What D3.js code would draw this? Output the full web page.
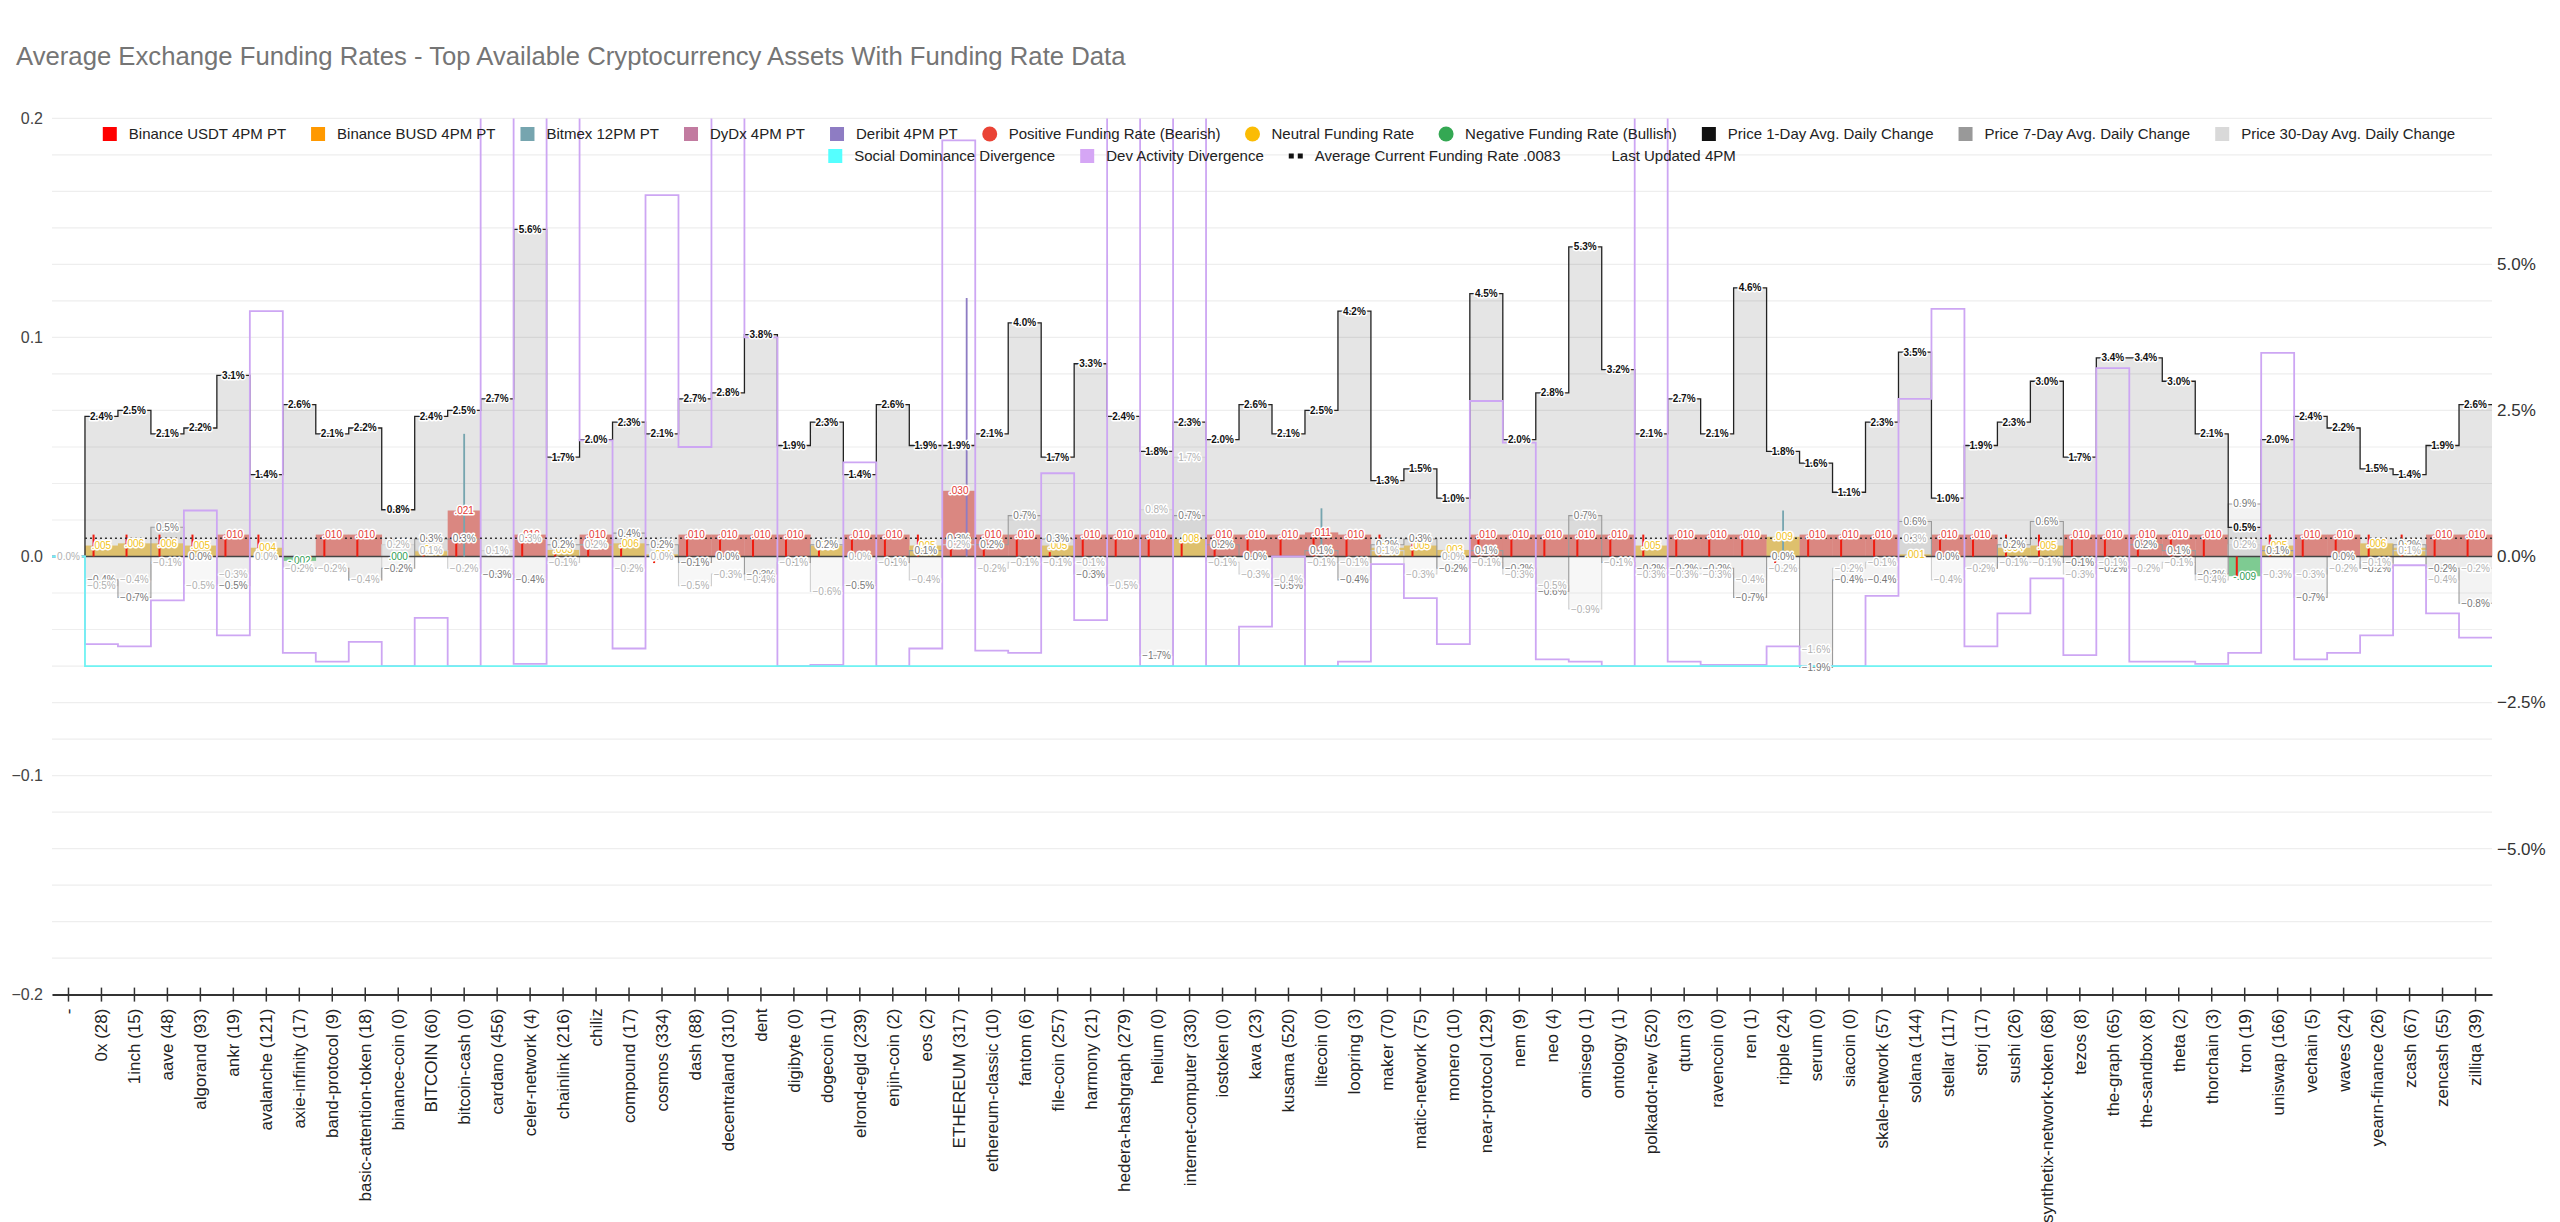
<!DOCTYPE html>
<html><head><meta charset="utf-8">
<script src="https://cdn.jsdelivr.net/npm/d3@7"></script>
<style>
html,body{margin:0;padding:0;background:#fff;}
svg{display:block;font-family:"Liberation Sans",Arial,sans-serif;}
</style></head><body>
<svg id="chart" width="2560" height="1222"></svg>
<script>
const titleText = "Average Exchange Funding Rates - Top Available Cryptocurrency Assets With Funding Rate Data";

const categories = ["-", "0x (28)", "1inch (15)", "aave (48)", "algorand (93)", "ankr (19)", "avalanche (121)", "axie-infinity (17)", "band-protocol (9)", "basic-attention-token (18)", "binance-coin (0)", "BITCOIN (60)", "bitcoin-cash (0)", "cardano (456)", "celer-network (4)", "chainlink (216)", "chiliz", "compound (17)", "cosmos (334)", "dash (88)", "decentraland (310)", "dent", "digibyte (0)", "dogecoin (1)", "elrond-egld (239)", "enjin-coin (2)", "eos (2)", "ETHEREUM (317)", "ethereum-classic (10)", "fantom (6)", "file-coin (257)", "harmony (21)", "hedera-hashgraph (279)", "helium (0)", "internet-computer (330)", "iostoken (0)", "kava (23)", "kusama (520)", "litecoin (0)", "loopring (3)", "maker (70)", "matic-network (75)", "monero (10)", "near-protocol (129)", "nem (9)", "neo (4)", "omisego (1)", "ontology (1)", "polkadot-new (520)", "qtum (3)", "ravencoin (0)", "ren (1)", "ripple (24)", "serum (0)", "siacoin (0)", "skale-network (57)", "solana (144)", "stellar (117)", "storj (17)", "sushi (26)", "synthetix-network-token (68)", "tezos (8)", "the-graph (65)", "the-sandbox (8)", "theta (2)", "thorchain (3)", "tron (19)", "uniswap (166)", "vechain (5)", "waves (24)", "yearn-finance (26)", "zcash (67)", "zencash (55)", "zilliqa (39)"];

// Price average daily change, percent (right axis)
const price1d = [0, 2.4, 2.5, 2.1, 2.2, 3.1, 1.4, 2.6, 2.1, 2.2, 0.8, 2.4, 2.5, 2.7, 5.6, 1.7, 2.0, 2.3, 2.1, 2.7, 2.8, 3.8, 1.9, 2.3, 1.4, 2.6, 1.9, 1.9, 2.1, 4.0, 1.7, 3.3, 2.4, 1.8, 2.3, 2.0, 2.6, 2.1, 2.5, 4.2, 1.3, 1.5, 1.0, 4.5, 2.0, 2.8, 5.3, 3.2, 2.1, 2.7, 2.1, 4.6, 1.8, 1.6, 1.1, 2.3, 3.5, 1.0, 1.9, 2.3, 3.0, 1.7, 3.4, 3.4, 3.0, 2.1, 0.5, 2.0, 2.4, 2.2, 1.5, 1.4, 1.9, 2.6];
const price7d = [0, -0.4, -0.7, 0.5, 0.0, -0.5, 0.0, -0.2, -0.2, -0.4, -0.2, 0.3, 0.3, -0.3, -0.4, 0.2, 0.2, 0.4, 0.2, -0.1, 0.0, -0.3, -0.1, 0.2, -0.5, -0.1, 0.1, 0.3, 0.2, 0.7, 0.3, -0.3, -0.5, -1.7, 0.7, 0.2, 0.0, -0.5, 0.1, -0.4, 0.2, 0.3, -0.2, 0.1, -0.2, -0.6, 0.7, -0.1, -0.2, -0.2, -0.2, -0.7, 0.0, -1.9, -0.4, -0.4, 0.6, 0.0, -0.2, 0.2, 0.6, -0.1, -0.2, 0.2, 0.1, -0.3, 0.9, 0.1, -0.7, 0.0, -0.2, 0.2, -0.2, -0.8];
const price30d = [0, -0.5, -0.4, -0.1, -0.5, -0.3, 0.0, -0.2, -0.2, -0.4, 0.2, 0.1, -0.2, 0.1, 0.3, -0.1, 0.2, -0.2, 0.0, -0.5, -0.3, -0.4, -0.1, -0.6, 0.0, -0.1, -0.4, 0.2, -0.2, -0.1, -0.1, -0.1, -0.5, 0.8, 1.7, -0.1, -0.3, -0.4, -0.1, -0.1, 0.1, -0.3, 0.0, -0.1, -0.3, -0.5, -0.9, -0.1, -0.3, -0.3, -0.3, -0.4, -0.2, -1.6, -0.2, -0.1, 0.3, -0.4, -0.2, -0.1, -0.1, -0.3, -0.1, -0.2, -0.1, -0.4, 0.2, -0.3, -0.3, -0.2, -0.1, 0.1, -0.4, -0.2];

// Average current funding rate per asset (left axis)
const fundingAvg = [null, 0.005, 0.006, 0.006, 0.005, 0.010, 0.004, -0.002, 0.010, 0.010, 0.000, 0.003, 0.021, null, 0.010, 0.003, 0.010, 0.006, 0.001, 0.010, 0.010, 0.010, 0.010, 0.005, 0.010, 0.010, 0.005, 0.030, 0.010, 0.010, 0.005, 0.010, 0.010, 0.010, 0.008, 0.010, 0.010, 0.010, 0.011, 0.010, 0.004, 0.005, 0.003, 0.010, 0.010, 0.010, 0.010, 0.010, 0.005, 0.010, 0.010, 0.010, 0.009, 0.010, 0.010, 0.010, 0.001, 0.010, 0.010, 0.004, 0.005, 0.010, 0.010, 0.010, 0.010, 0.010, -0.009, 0.005, 0.010, 0.010, 0.006, 0.004, 0.010, 0.010];
// Binance USDT funding rate (thin bars)
const binanceUsdt = [null, 0.010, 0.010, 0.010, 0.010, 0.010, 0.010, null, 0.010, 0.010, null, 0.003, 0.010, null, 0.010, 0.003, 0.010, 0.006, -0.003, 0.010, 0.010, 0.010, 0.010, 0.005, 0.010, 0.010, 0.010, 0.007, 0.010, 0.010, 0.002, 0.010, 0.010, 0.010, 0.008, 0.010, 0.010, 0.010, 0.010, 0.010, 0.010, 0.006, 0.003, 0.010, 0.010, 0.010, 0.010, 0.010, 0.010, 0.010, 0.010, 0.010, -0.003, 0.010, 0.010, 0.010, null, 0.010, 0.010, 0.010, 0.010, 0.010, 0.010, 0.010, 0.010, 0.010, -0.009, 0.010, 0.010, 0.010, 0.010, 0.010, 0.010, 0.010];
const bitmexRates = [["bitcoin-cash (0)", 0.056], ["litecoin (0)", 0.022], ["ripple (24)", 0.021]];
const deribitRates = [["ETHEREUM (317)", 0.118]];
const averageFundingRate = 0.0083;

// Divergence series (left axis); values above 0.2 run off the top of the chart
const devActivity = [0, -0.040, -0.041, -0.020, 0.021, -0.036, 0.112, -0.044, -0.048, -0.039, -0.050, -0.028, -0.050, 0.3, -0.049, 0.3, 0.053, -0.042, 0.165, 0.050, 0.3, 0.100, -0.050, -0.0495, 0.043, -0.050, -0.042, 0.190, -0.043, -0.044, 0.038, -0.029, 0.3, -0.050, 0.3, -0.050, -0.032, 0.0, -0.050, -0.048, -0.0035, -0.019, -0.040, 0.071, 0.052, -0.047, -0.048, -0.050, 0.3, -0.048, -0.0495, -0.0495, -0.041, -0.050, -0.050, -0.018, 0.072, 0.113, -0.041, -0.026, -0.010, -0.045, 0.086, -0.048, -0.048, -0.049, -0.044, 0.093, -0.047, -0.044, -0.036, -0.004, -0.026, -0.037];
const socialDominance = [0, -0.05, -0.05, -0.05, -0.05, -0.05, -0.05, -0.05, -0.05, -0.05, -0.05, -0.05, -0.05, -0.05, -0.05, -0.05, -0.05, -0.05, -0.05, -0.05, -0.05, -0.05, -0.05, -0.05, -0.05, -0.05, -0.05, -0.05, -0.05, -0.05, -0.05, -0.05, -0.05, -0.05, -0.05, -0.05, -0.05, -0.05, -0.05, -0.05, -0.05, -0.05, -0.05, -0.05, -0.05, -0.05, -0.05, -0.05, -0.05, -0.05, -0.05, -0.05, -0.05, -0.05, -0.05, -0.05, -0.05, -0.05, -0.05, -0.05, -0.05, -0.05, -0.05, -0.05, -0.05, -0.05, -0.05, -0.05, -0.05, -0.05, -0.05, -0.05, -0.05, -0.05];

const leftTicks = [0.2, 0.1, 0.0, -0.1, -0.2];
const rightTicks = [5.0, 2.5, 0.0, -2.5, -5.0];
const exchanges = ["Binance USDT 4PM PT", "Binance BUSD 4PM PT", "Bitmex 12PM PT", "DyDx 4PM PT", "Deribit 4PM PT"];
const legendRow1 = ["Binance USDT 4PM PT", "Binance BUSD 4PM PT", "Bitmex 12PM PT", "DyDx 4PM PT", "Deribit 4PM PT", "Positive Funding Rate (Bearish)", "Neutral Funding Rate", "Negative Funding Rate (Bullish)", "Price 1-Day Avg. Daily Change", "Price 7-Day Avg. Daily Change", "Price 30-Day Avg. Daily Change"];
const legendRow2 = ["Social Dominance Divergence", "Dev Activity Divergence", "Average Current Funding Rate .0083", "Last Updated 4PM"];

// ---------- styles ----------
const legendStyle = {
  "Binance USDT 4PM PT": ["rect", "#ff0000"],
  "Binance BUSD 4PM PT": ["rect", "#ff9900"],
  "Bitmex 12PM PT": ["rect", "#76a5af"],
  "DyDx 4PM PT": ["rect", "#c27ba0"],
  "Deribit 4PM PT": ["rect", "#8e7cc3"],
  "Positive Funding Rate (Bearish)": ["circle", "#ea4335"],
  "Neutral Funding Rate": ["circle", "#fbbc04"],
  "Negative Funding Rate (Bullish)": ["circle", "#34a853"],
  "Price 1-Day Avg. Daily Change": ["rect", "#111111"],
  "Price 7-Day Avg. Daily Change": ["rect", "#999999"],
  "Price 30-Day Avg. Daily Change": ["rect", "#d9d9d9"],
  "Social Dominance Divergence": ["rect", "#55ffff"],
  "Dev Activity Divergence": ["rect", "#d5a6f5"],
  "Average Current Funding Rate .0083": ["dots", "#111111"],
  "Last Updated 4PM": ["none", "none"]
};

const svg = d3.select("#chart");
const PL = 52, PR = 2492, PT = 118.4, PB = 994.6;
const x = d3.scaleBand().domain(categories).range([PL, PR]);
const bw = x.bandwidth();
const y = d3.scaleLinear().domain([-0.2, 0.2]).range([PB, PT]);
const yR = d3.scaleLinear().domain([-7.5, 7.5]).range([PB, PT]);
const xSub = d3.scaleBand().domain(exchanges).range([6.6, bw - 6.6]);

svg.append("defs").append("clipPath").attr("id", "plotclip")
  .append("rect").attr("x", PL - 2).attr("y", PT).attr("width", PR - PL + 4).attr("height", PB - PT);

// title
svg.append("text").attr("x", 16).attr("y", 65).attr("font-size", 25.7)
  .attr("fill", "#757575").text(titleText);

// gridlines
const gridVals = d3.range(-12, 13).map(i => i * 0.2 / 12);
svg.append("g").selectAll("line").data(gridVals).join("line")
  .attr("x1", PL).attr("x2", PR).attr("y1", d => y(d)).attr("y2", d => y(d))
  .attr("stroke", "#eeeeee").attr("stroke-width", 1.2);

// left axis labels
svg.append("g").selectAll("text").data(leftTicks).join("text")
  .attr("x", 43).attr("y", d => y(d)).attr("dy", "0.35em").attr("text-anchor", "end")
  .attr("font-size", 16).attr("fill", "#444").text(d => d3.format(".1f")(d));
// right axis labels
svg.append("g").selectAll("text").data(rightTicks).join("text")
  .attr("x", 2497).attr("y", d => yR(d)).attr("dy", "0.35em").attr("text-anchor", "start")
  .attr("font-size", 17).attr("fill", "#333").text(d => d3.format(".1f")(d) + "%");

// ---------- stepped series helpers ----------
function steps(vals) {
  const pts = [];
  vals.forEach((v, i) => {
    const xs = x(categories[i]);
    pts.push({x: xs, v: v}); pts.push({x: xs + bw, v: v});
  });
  return pts;
}
const areaR = d3.area().x(d => d.x).y0(yR(0)).y1(d => yR(d.v)).defined(d => d.v != null);
const lineR = d3.line().x(d => d.x).y(d => yR(d.v)).defined(d => d.v != null);
const lineL = d3.line().x(d => d.x).y(d => y(d.v)).defined(d => d.v != null);

const priceSeries = [
  {vals: price1d, fill: "#000", fop: 0.1, stroke: "#222", sw: 1.3, label: "#111", weight: "bold"},
  {vals: price7d, fill: "#888", fop: 0.1, stroke: "#9a9a9a", sw: 1.1, label: "#777", weight: "normal"},
  {vals: price30d, fill: "#bbb", fop: 0.12, stroke: "#cfcfcf", sw: 1.1, label: "#b0b0b0", weight: "normal"}
];
const gAreas = svg.append("g");
priceSeries.forEach(s => {
  gAreas.append("path").attr("d", areaR(steps(s.vals))).attr("fill", s.fill).attr("fill-opacity", s.fop);
});

// funding average stepped bars
function fundColor(v) { return v >= 0.0095 ? "#da8781" : (v > 0 ? "#dec06d" : "#7ecb92"); }
function fundLabelColor(v) { return v >= 0.0095 ? "#e53935" : (v > 0 ? "#f2c21a" : "#2f9e55"); }
svg.append("g").selectAll("rect").data(categories.map((c, i) => ({c, v: fundingAvg[i]})).filter(d => d.v != null))
  .join("rect")
  .attr("x", d => x(d.c)).attr("width", bw + 0.3)
  .attr("y", d => Math.min(y(d.v), y(0))).attr("height", d => Math.abs(y(d.v) - y(0)))
  .attr("fill", d => fundColor(d.v));

// price lines
const gLines = svg.append("g");
priceSeries.slice().reverse().forEach(s => {
  gLines.append("path").attr("d", lineR(steps(s.vals))).attr("fill", "none")
    .attr("stroke", s.stroke).attr("stroke-width", s.sw);
});

// zero line
svg.append("line").attr("x1", PL).attr("x2", PR).attr("y1", y(0)).attr("y2", y(0))
  .attr("stroke", "#444").attr("stroke-width", 1.6);

// exchange thin bars
const gEx = svg.append("g");
gEx.selectAll("rect.usdt").data(categories.map((c, i) => ({c, v: binanceUsdt[i]})).filter(d => d.v != null))
  .join("rect").attr("class", "usdt")
  .attr("x", d => x(d.c) + xSub("Binance USDT 4PM PT") + xSub.bandwidth() / 2 - 1).attr("width", 2)
  .attr("y", d => Math.min(y(d.v), y(0))).attr("height", d => Math.abs(y(d.v) - y(0)))
  .attr("fill", "#ee1c10");
gEx.selectAll("rect.bitmex").data(bitmexRates).join("rect").attr("class", "bitmex")
  .attr("x", d => x(d[0]) + xSub("Bitmex 12PM PT") + xSub.bandwidth() / 2 - 0.9).attr("width", 1.8)
  .attr("y", d => y(d[1])).attr("height", d => y(0) - y(d[1])).attr("fill", "#76a5af");
gEx.selectAll("rect.deribit").data(deribitRates).join("rect").attr("class", "deribit")
  .attr("x", d => x(d[0]) + xSub("Deribit 4PM PT") + xSub.bandwidth() / 2 - 0.9).attr("width", 1.8)
  .attr("y", d => y(d[1])).attr("height", d => y(0) - y(d[1])).attr("fill", "#8e7cc3");

// divergence lines
const gDiv = svg.append("g").attr("clip-path", "url(#plotclip)");
gDiv.append("path").attr("d", lineL(steps(devActivity))).attr("fill", "none")
  .attr("stroke", "#cda6f3").attr("stroke-width", 1.8);
gDiv.append("path").attr("d", lineL(steps(socialDominance))).attr("fill", "none")
  .attr("stroke", "#6ff3f3").attr("stroke-width", 1.8);

// average funding dotted line
svg.append("line").attr("x1", x(categories[1])).attr("x2", PR)
  .attr("y1", y(averageFundingRate)).attr("y2", y(averageFundingRate))
  .attr("stroke", "#333").attr("stroke-width", 1.6).attr("stroke-dasharray", "2,3");

// ---------- annotations ----------
const gLab = svg.append("g").attr("font-size", 10).attr("text-anchor", "middle")
  .attr("stroke", "#fff").attr("stroke-width", 3).attr("stroke-linejoin", "round").attr("paint-order", "stroke");
function fmtFund(v) { const s = d3.format(".3f")(Math.abs(v)).replace(/^0/, ""); return (v < 0 ? "-" : "") + s; }
gLab.selectAll("text.fund").data(categories.map((c, i) => ({c, v: fundingAvg[i]})).filter(d => d.v != null))
  .join("text").attr("class", "fund")
  .attr("x", d => x(d.c) + bw / 2).attr("y", d => y(d.v)).attr("dy", "0.35em")
  .attr("fill", d => fundLabelColor(d.v)).text(d => fmtFund(d.v));
priceSeries.forEach((s, k) => {
  gLab.selectAll("text.p" + k).data(categories.map((c, i) => ({c, v: s.vals[i]})).filter(d => d.v != null))
    .join("text").attr("class", "p" + k)
    .attr("x", d => x(d.c) + bw / 2).attr("y", d => yR(d.v)).attr("dy", "0.35em")
    .attr("fill", s.label).attr("font-weight", s.weight)
    .text(d => d3.format(".1f")(d.v) + "%");
});

// ---------- x axis ----------
const gx = svg.append("g").attr("transform", `translate(0,${PB})`)
  .call(d3.axisBottom(x).tickSize(0).tickSizeOuter(0).tickPadding(0));
gx.attr("font-family", null).attr("font-size", null);
gx.select(".domain").attr("stroke", "#333").attr("stroke-width", 2);
gx.selectAll(".tick line").attr("y1", -7).attr("y2", 7).attr("stroke", "#333").attr("stroke-width", 1.5);
gx.selectAll(".tick text").attr("y", 0).attr("dy", "0.35em").attr("x", 0)
  .attr("transform", "translate(0,14) rotate(-90)").attr("text-anchor", "end")
  .attr("font-size", 17).attr("fill", "#222");

// ---------- legend ----------
function drawLegendRow(items, cy, cx) {
  const g = svg.append("g");
  const parts = items.map(lbl => {
    const it = g.append("g");
    const st = legendStyle[lbl];
    if (st[0] === "rect") it.append("rect").attr("x", 0).attr("y", cy - 7).attr("width", 14).attr("height", 14).attr("fill", st[1]);
    else if (st[0] === "circle") it.append("circle").attr("cx", 7).attr("cy", cy).attr("r", 7.5).attr("fill", st[1]);
    else if (st[0] === "dots") it.append("line").attr("x1", 0).attr("x2", 18).attr("y1", cy).attr("y2", cy)
      .attr("stroke", st[1]).attr("stroke-width", 5).attr("stroke-dasharray", "5,4");
    const t = it.append("text").attr("x", 26).attr("y", cy).attr("dy", "0.35em")
      .attr("font-size", 15).attr("fill", "#222").text(lbl);
    return {it, w: 26 + t.node().getComputedTextLength()};
  });
  const gap = 25;
  const total = d3.sum(parts, p => p.w) + gap * (parts.length - 1);
  let cur = cx - total / 2;
  parts.forEach(p => { p.it.attr("transform", `translate(${cur},0)`); cur += p.w + gap; });
}
drawLegendRow(legendRow1, 134, 1279);
drawLegendRow(legendRow2, 156, 1282);
</script>
</body></html>
